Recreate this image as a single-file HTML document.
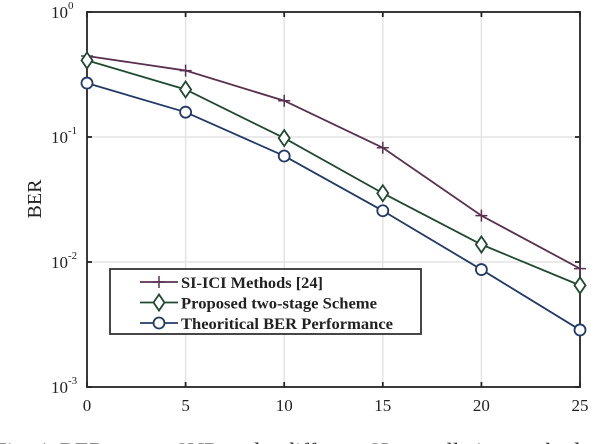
<!DOCTYPE html>
<html><head><meta charset="utf-8"><style>
body{margin:0;background:#fff;width:612px;height:444px;overflow:hidden}
svg{display:block;font-family:"Liberation Serif",serif}
</style></head><body>
<svg id="c" width="612" height="444" viewBox="0 0 612 444"></svg>
<script>
const snr=[0,5,10,15,20,25];
const siIci=[0.445,0.34,0.195,0.082,0.0235,0.00885];
const proposed=[0.41,0.24,0.098,0.0355,0.0138,0.0065];
const theory=[0.27,0.158,0.0705,0.0257,0.0087,0.00286];
const xTicks=[0,5,10,15,20,25];
const yExps=[0,-1,-2,-3];
const L=87,R=580,T=12,B=387;
const xs=v=>L+(v-0)/(25-0)*(R-L);
const ys=v=>T+(0-Math.log10(v))/3*(B-T);
const NS="http://www.w3.org/2000/svg",svg=document.getElementById('c');
function mk(t,a,p){const e=document.createElementNS(NS,t);for(const k in a)e.setAttribute(k,a[k]);(p||svg).appendChild(e);return e;}
xTicks.forEach(v=>{const g=mk('line',{x1:xs(v),x2:xs(v),y1:T,y2:B,stroke:'#e3e3e3','stroke-width':1.5});

});
yExps.forEach(e=>{const g=mk('line',{x1:L,x2:R,y1:ys(Math.pow(10,e)),y2:ys(Math.pow(10,e)),stroke:'#e3e3e3','stroke-width':1.5});

});
const bx=mk('rect',{x:L,y:T,width:R-L,height:B-T,fill:'none',stroke:'#262626','stroke-width':1.8});


xTicks.forEach(v=>{mk('line',{x1:xs(v),x2:xs(v),y1:B,y2:B-5,stroke:'#262626','stroke-width':1.8});mk('line',{x1:xs(v),x2:xs(v),y1:T,y2:T+5,stroke:'#262626','stroke-width':1.8});
const t=mk('text',{x:xs(v),y:411,'font-size':17,'text-anchor':'middle',fill:'#222'});t.textContent=v;

});
yExps.forEach(e=>{const y=ys(Math.pow(10,e));mk('line',{x1:L,x2:L+5,y1:y,y2:y,stroke:'#262626','stroke-width':1.8});mk('line',{x1:R,x2:R-5,y1:y,y2:y,stroke:'#262626','stroke-width':1.8});
const t=mk('text',{x:68,y:y+6,'font-size':17,'text-anchor':'end',fill:'#222'});t.textContent='10';


const s=mk('text',{x:68,y:y-3,'font-size':11,fill:'#222'});s.textContent=e;

});
const yl=mk('text',{x:41,y:199,'font-size':20,'text-anchor':'middle',fill:'#222',transform:'rotate(-90 41 199)'});yl.textContent='BER';


function marker(type,x,y,c,p){
 if(type==='plus'){mk('path',{d:`M${x-6},${y}H${x+6}M${x},${y-6}V${y+6}`,stroke:c,'stroke-width':1.5},p);}
 else if(type==='diamond'){mk('path',{d:`M${x},${y-8}L${x+5.5},${y}L${x},${y+8}L${x-5.5},${y}Z`,fill:'#fff',stroke:c,'stroke-width':1.8},p);}
 else mk('circle',{cx:x,cy:y,r:5.5,fill:'#fff',stroke:c,'stroke-width':1.8},p);
}
const series=[['si-ici-series',siIci,'#5a3050','plus'],['proposed-series',proposed,'#1f4a30','diamond'],['theory-series',theory,'#223a68','circle']];
series.forEach(([n,d,c,m])=>{const g=mk('g',{});


mk('polyline',{points:snr.map((v,i)=>xs(v)+','+ys(d[i])).join(' '),fill:'none',stroke:c,'stroke-width':1.8},g);
snr.forEach((v,i)=>marker(m,xs(v),ys(d[i]),c,g));});
const lg=mk('g',{});


mk('rect',{x:110,y:269,width:311,height:65,fill:'#fff',stroke:'#333','stroke-width':1.8},lg);
const labels=['SI-ICI Methods [24]','Proposed two-stage Scheme','Theoritical BER Performance'];
const widths=[142,196,212];
series.forEach(([n,d,c,m],i)=>{const y=282+i*20.5;const e=mk('g',{},lg);


mk('line',{x1:140,x2:178,y1:y,y2:y,stroke:c,'stroke-width':1.8},e);marker(m,159,y,c,e);
const t=mk('text',{x:181,y:y+6,'font-size':16,'font-weight':'bold',fill:'#222',textLength:widths[i],lengthAdjust:'spacingAndGlyphs'},e);t.textContent=labels[i];});
const cap=mk('text',{x:-6,y:459,'font-size':23,fill:'#222'});cap.textContent='Fig. 4: BER versus SNR under different SI cancellation methods';


</script>
</body></html>
